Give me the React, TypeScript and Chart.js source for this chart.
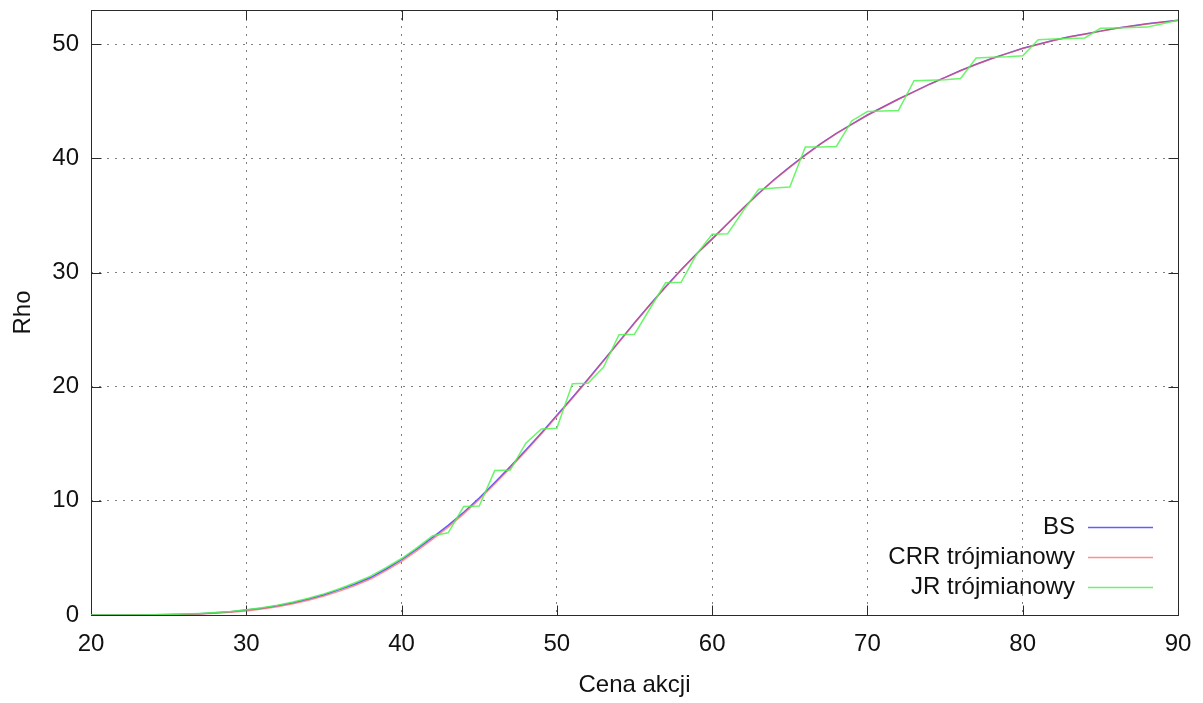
import React, { useEffect, useRef } from 'react';
import { Chart, registerables } from 'chart.js';

Chart.register(...registerables);

// ---- data ----
const prices = [
  20, 21, 22, 23, 24, 25, 26, 27, 28, 29,
  30, 31, 32, 33, 34, 35, 36, 37, 38, 39,
  40, 41, 42, 43, 44, 45, 46, 47, 48, 49,
  50, 51, 52, 53, 54, 55, 56, 57, 58, 59,
  60, 61, 62, 63, 64, 65, 66, 67, 68, 69,
  70, 71, 72, 73, 74, 75, 76, 77, 78, 79,
  80, 81, 82, 83, 84, 85, 86, 87, 88, 89,
  90,
];

const bsRho = [
  0.0, 0.0, 0.0, 0.01, 0.02, 0.04, 0.07, 0.12, 0.19, 0.29,
  0.43, 0.6, 0.82, 1.08, 1.4, 1.78, 2.22, 2.72, 3.28, 4.03,
  4.85, 5.8, 6.8, 7.85, 9.0, 10.25, 11.6, 13.0, 14.45, 15.95,
  17.5, 19.05, 20.65, 22.3, 23.95, 25.6, 27.2, 28.75, 30.25, 31.65,
  32.95, 34.3, 35.65, 36.95, 38.15, 39.25, 40.3, 41.3, 42.2, 43.0,
  43.8, 44.5, 45.2, 45.85, 46.5, 47.1, 47.7, 48.25, 48.75, 49.2,
  49.65, 50.0, 50.35, 50.65, 50.9, 51.15, 51.4, 51.6, 51.8, 51.95,
  52.1,
];

const crrRho = [
  0.0, 0.0, 0.0, 0.0, 0.01, 0.03, 0.05, 0.09, 0.15, 0.24,
  0.36, 0.52, 0.73, 0.98, 1.29, 1.66, 2.09, 2.59, 3.15, 3.88,
  4.7, 5.64, 6.64, 7.7, 8.86, 10.12, 11.48, 12.89, 14.35, 15.86,
  17.42, 18.98, 20.59, 22.24, 23.9, 25.55, 27.16, 28.71, 30.21, 31.62,
  32.92, 34.27, 35.62, 36.92, 38.12, 39.22, 40.27, 41.27, 42.17, 42.98,
  43.78, 44.48, 45.18, 45.83, 46.48, 47.08, 47.68, 48.23, 48.73, 49.18,
  49.63, 49.98, 50.33, 50.63, 50.88, 51.13, 51.38, 51.58, 51.78, 51.93,
  52.08,
];

const jrRho = [
  0.0, 0.0, 0.0, 0.01, 0.02, 0.05, 0.08, 0.13, 0.21, 0.31,
  0.46, 0.64, 0.86, 1.13, 1.46, 1.85, 2.3, 2.82, 3.4, 4.15,
  4.95, 5.9, 6.95, 7.2, 9.5, 9.55, 12.65, 12.7, 15.05, 16.3,
  16.35, 20.25, 20.3, 21.7, 24.55, 24.6, 26.85, 29.1, 29.15, 31.6,
  33.35, 33.4, 35.4, 37.3, 37.4, 37.5, 41.0, 41.0, 41.05, 43.3,
  44.1, 44.15, 44.2, 46.8, 46.85, 46.9, 47.0, 48.8, 48.85, 48.9,
  49.0, 50.4, 50.45, 50.5, 50.55, 51.4, 51.43, 51.46, 51.5, 51.8,
  52.1,
];

const xTickValues = [20, 30, 40, 50, 60, 70, 80, 90];
const yTickValues = [0, 10, 20, 30, 40, 50];
const seriesLabels = ['BS', 'CRR trójmianowy', 'JR trójmianowy'];
const seriesColors = ['rgb(95,95,255)', 'rgba(255,70,70,0.6)', 'rgba(80,245,80,0.85)'];
const xTitle = 'Cena akcji';
const yTitle = 'Rho';

const FONT_FAMILY = '"Liberation Sans", Arial, sans-serif';
const FONT_SIZE = 24;

const toPoints = (vals: number[]) => prices.map((p, i) => ({ x: p, y: vals[i] }));

const framePlugin = {
  id: 'gnuFrame',
  beforeDatasetsDraw(chart: any) {
    const { ctx, chartArea: a, scales } = chart;
    const xs = scales.x;
    const ys = scales.y;
    const L = Math.round(a.left) + 0.5;
    const R = Math.round(a.right) + 0.5;
    const T = Math.round(a.top) + 0.5;
    const B = Math.round(a.bottom) + 0.5;
    ctx.save();
    ctx.strokeStyle = '#2a2a2a';
    ctx.lineWidth = 1;
    ctx.setLineDash([]);
    ctx.strokeRect(L, T, R - L, B - T);
    const tl = 10;
    ctx.beginPath();
    xTickValues.forEach((v) => {
      const px = Math.round(xs.getPixelForValue(v)) + 0.5;
      ctx.moveTo(px, B);
      ctx.lineTo(px, B - tl);
      ctx.moveTo(px, T);
      ctx.lineTo(px, T + tl);
    });
    yTickValues.forEach((v) => {
      const py = Math.round(ys.getPixelForValue(v)) + 0.5;
      ctx.moveTo(L, py);
      ctx.lineTo(L + tl, py);
      ctx.moveTo(R, py);
      ctx.lineTo(R - tl, py);
    });
    ctx.stroke();
    ctx.restore();
  },
};

const legendPlugin = {
  id: 'gnuLegend',
  afterDatasetsDraw(chart: any) {
    const { ctx, chartArea: a } = chart;
    ctx.save();
    ctx.font = `${FONT_SIZE}px ${FONT_FAMILY}`;
    ctx.textAlign = 'right';
    ctx.textBaseline = 'middle';
    chart.data.datasets.forEach((ds: any, i: number) => {
      const yy = Math.round(a.bottom - 88 + i * 30) + 0.5;
      ctx.fillStyle = '#111';
      ctx.fillText(ds.label, a.right - 103, yy);
      ctx.strokeStyle = ds.borderColor;
      ctx.lineWidth = 1.4;
      ctx.beginPath();
      ctx.moveTo(a.right - 90, yy);
      ctx.lineTo(a.right - 25, yy);
      ctx.stroke();
    });
    ctx.restore();
  },
};

export default function App() {
  const ref = useRef<HTMLCanvasElement | null>(null);

  useEffect(() => {
    if (!ref.current) return;
    const font = { family: FONT_FAMILY, size: FONT_SIZE };
    const chart = new Chart(ref.current, {
      type: 'line',
      data: {
        datasets: [bsRho, crrRho, jrRho].map((vals, i) => ({
          label: seriesLabels[i],
          data: toPoints(vals),
          borderColor: seriesColors[i],
          backgroundColor: seriesColors[i],
          borderWidth: 1.5,
          pointRadius: 0,
          tension: 0,
          fill: false,
          order: 2 - i,
        })),
      },
      options: {
        responsive: false,
        animation: false,
        events: [],
        layout: { padding: { left: 0, right: 25, top: 10, bottom: 0 } },
        plugins: {
          legend: { display: false },
          tooltip: { enabled: false },
          title: { display: false },
        },
        scales: {
          x: {
            type: 'linear',
            min: 20,
            max: 90,
            afterBuildTicks: (s: any) => {
              s.ticks = xTickValues.map((v) => ({ value: v }));
            },
            afterFit: (s: any) => {
              s.height = 88;
              s.paddingLeft = 0;
              s.paddingRight = 0;
            },
            grid: {
              color: 'rgba(0,0,0,0.5)',
              lineWidth: 1,
              drawTicks: false,
            },
            border: { display: false, dash: [2, 6] },
            ticks: { color: '#111', font, padding: 15, maxRotation: 0 },
            title: {
              display: true,
              text: xTitle,
              color: '#111',
              font,
              padding: { top: 0, bottom: 3 },
            },
          },
          y: {
            type: 'linear',
            min: 0,
            max: 53,
            afterBuildTicks: (s: any) => {
              s.ticks = yTickValues.map((v) => ({ value: v }));
            },
            afterFit: (s: any) => {
              s.width = 91;
              s.paddingTop = 0;
              s.paddingBottom = 0;
            },
            grid: {
              color: 'rgba(0,0,0,0.5)',
              lineWidth: 1,
              drawTicks: false,
            },
            border: { display: false, dash: [2, 6] },
            ticks: { color: '#111', font, padding: 12 },
            title: {
              display: true,
              text: yTitle,
              color: '#111',
              font,
              padding: { top: 9, bottom: 0 },
            },
          },
        },
      },
      plugins: [framePlugin, legendPlugin],
    });
    return () => chart.destroy();
  }, []);

  return (
    <div style={{ position: 'absolute', left: 0, top: 0, width: 1203, height: 703, background: '#fff' }}>
      <canvas ref={ref} width={1203} height={703} style={{ display: 'block', width: 1203, height: 703 }} />
    </div>
  );
}
